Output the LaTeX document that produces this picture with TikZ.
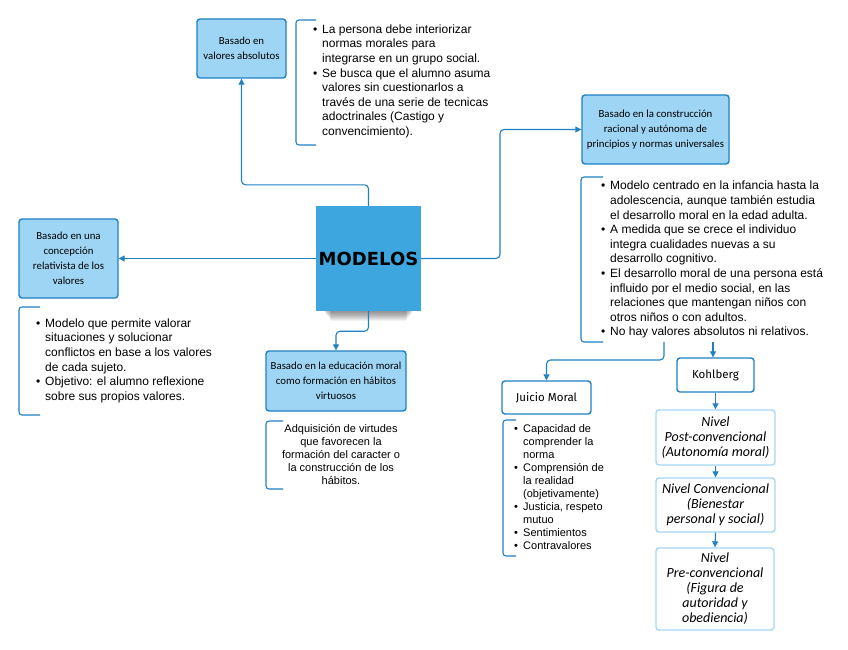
\documentclass[tikz,border=0pt]{standalone}
\usepackage{fontspec}
\setmainfont{Liberation Sans}
\newfontfamily\hand{Carlito}
\newfontfamily\typew{Fira Sans}
\newfontfamily\heavy{DejaVu Sans}
\usetikzlibrary{arrows.meta}
\definecolor{lineblue}{HTML}{1F80C4}
\definecolor{boxfill}{HTML}{9FD5F4}
\definecolor{mainfill}{HTML}{3DA6DF}
\definecolor{lightborder}{HTML}{A5D6F3}
\newcommand{\bl}{\makebox[9pt][l]{\textbullet}}
\newcommand{\ind}{\hspace*{9pt}}
\tikzset{
  conn/.style={draw=lineblue, line width=1.1pt, rounded corners=4pt, -{Triangle[width=6pt,length=6pt]}},
  hbox/.style={draw=lineblue, fill=boxfill, line width=1.4pt, rounded corners=3pt, align=center, inner sep=2pt,
    font=\hand\fontsize{10.8}{15}\selectfont},
  wbox/.style={draw=lineblue, fill=white, line width=1.4pt, rounded corners=3pt, align=center,
    font=\typew\fontsize{11.5}{14}\selectfont},
  lvbox/.style={draw=lightborder, fill=white, line width=1.4pt, rounded corners=3pt, align=center,
    font=\hand\itshape\fontsize{14}{15}\selectfont},
  brk/.style={draw=lineblue, line width=1.1pt, rounded corners=3pt},
  btext/.style={align=left, inner sep=0pt, anchor=north west, font=\fontsize{12}{14.6}\selectfont},
  stext/.style={align=left, inner sep=0pt, anchor=north west, font=\fontsize{11}{13.2}\selectfont}
}
\begin{document}
\begin{tikzpicture}[x=1pt,y=-1pt]
\fill[white] (0,0) rectangle (848,650);
\useasboundingbox (0,0) rectangle (848,650);

% soft shadow under the central node
\foreach \d in {0,1,...,9} {
  \fill[black, opacity=0.05] (324+\d*0.8,300+\d*0.6) rectangle (413-\d*0.8,312+\d*1.0);
}

% central node
\node[fill=mainfill, minimum width=105pt, minimum height=105pt, inner sep=0pt,
  font=\heavy\bfseries\fontsize{18}{20}\selectfont] (mod) at (368.5,258.5) {MODELOS};

% blue boxes
\node[hbox, minimum width=89pt, minimum height=59pt] (tl) at (241.5,48.5) {Basado en\\valores absolutos};
\node[hbox, minimum width=147pt, minimum height=69pt] (rb) at (655.5,129.5) {Basado en la construcción\\racional y autónoma de\\principios y normas universales};
\node[hbox, minimum width=99pt, minimum height=79pt] (lb) at (68.5,258.5) {Basado en una\\concepción\\relativista de los\\valores};
\node[hbox, minimum width=140pt, minimum height=60pt] (bb) at (336,381) {Basado en la educación moral\\como formación en hábitos\\virtuosos};

% white boxes
\node[wbox, minimum width=89pt, minimum height=33pt] (jm) at (546.5,397.5) {Juicio Moral};
\node[wbox, minimum width=77pt, minimum height=34pt] (ko) at (715.5,375) {Kohlberg};

% level boxes
\node[lvbox, minimum width=119pt, minimum height=55pt] (lv1) at (715.5,437.5) {Nivel\\Post-convencional\\(Autonomía moral)};
\node[lvbox, minimum width=119pt, minimum height=54pt] (lv2) at (715.5,505) {Nivel Convencional\\(Bienestar\\personal y social)};
\node[lvbox, minimum width=118pt, minimum height=82pt] (lv3) at (715,589) {Nivel\\Pre-convencional\\(Figura de\\autoridad y\\obediencia)};

% text blocks
\node[btext] (tltext) at (313,24.5) {\bl La persona debe interiorizar\\\ind normas morales para\\\ind integrarse en un grupo social.\\\bl Se busca que el alumno asuma\\\ind valores sin cuestionarlos a\\\ind través de una serie de tecnicas\\\ind adoctrinales (Castigo y\\\ind convencimiento).};
\node[btext] (rtext) at (601,181) {\bl Modelo centrado en la infancia hasta la\\\ind adolescencia, aunque también estudia\\\ind el desarrollo moral en la edad adulta.\\\bl A medida que se crece el individuo\\\ind integra cualidades nuevas a su\\\ind desarrollo cognitivo.\\\bl El desarrollo moral de una persona está\\\ind influido por el medio social, en las\\\ind relaciones que mantengan niños con\\\ind otros niños o con adultos.\\\bl No hay valores absolutos ni relativos.};
\node[btext] (ltext) at (36,318.5) {\bl Modelo que permite valorar\\\ind situaciones y solucionar\\\ind conflictos en base a los valores\\\ind de cada sujeto.\\\bl Objetivo: el alumno reflexione\\\ind sobre sus propios valores.};
\node[align=center, inner sep=0pt, anchor=north, font=\fontsize{11}{13}\selectfont] (btext) at (341,424) {Adquisición de virtudes\\que favorecen la\\formación del caracter o\\la construcción de los\\hábitos.};
\node[stext, font=\fontsize{11}{13}\selectfont] (jtext) at (514,424) {\bl Capacidad de\\\ind comprender la\\\ind norma\\\bl Comprensión de\\\ind la realidad\\\ind (objetivamente)\\\bl Justicia, respeto\\\ind mutuo\\\bl Sentimientos\\\bl Contravalores};

% brackets
\draw[brk] (316,20) -- (296,20) -- (296,145) -- (316,145);
\draw[brk] (603,177) -- (581,177) -- (581,342) -- (603,342);
\draw[brk] (40,307) -- (19,307) -- (19,415) -- (40,415);
\draw[brk] (283,421) -- (266,421) -- (266,489) -- (283,489);
\draw[brk] (516,420) -- (503,420) -- (503,556) -- (516,556);

% connectors
\draw[conn] (mod.north) -- ++(0,-21) -| (tl.south);
\coordinate (rturn) at (500,258.5);
\draw[conn] (mod.east) -- (rturn) |- (rb.west);
\draw[conn] (mod.west) -- (lb.east);
\draw[conn] (mod.south) -- ++(0,20) -| (bb.north);
\coordinate (rs1) at (664,342);
\coordinate (rs2) at (713,342);
\draw[conn] (rs1) -- ++(0,18) -| (jm.north);
\draw[conn] (rs2) -- (rs2 |- ko.north);
\draw[conn] (ko.south) -- (lv1.north);
\draw[conn] (lv1.south) -- (lv2.north);
\draw[conn] (lv2.south) -- (lv3.north);
\end{tikzpicture}
\end{document}
